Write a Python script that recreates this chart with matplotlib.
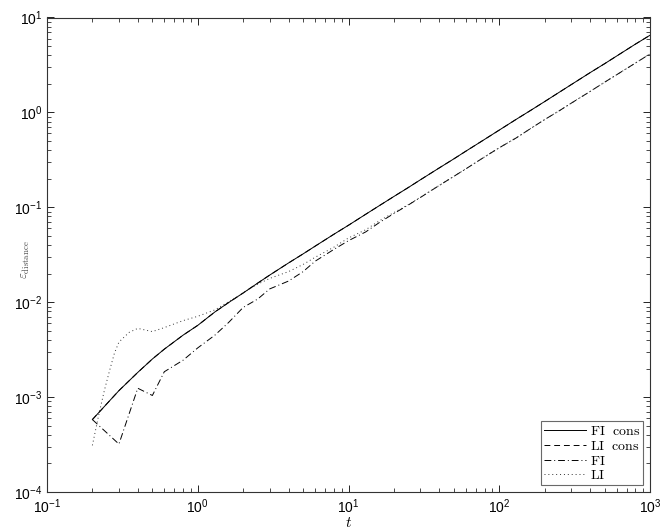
import numpy as np
import matplotlib
matplotlib.use("Agg")
import matplotlib.pyplot as plt

plt.rcParams['font.family'] = ['Liberation Sans', 'DejaVu Sans']

# time grid shared by the FI / cons runs
t = [0.2, 0.3, 0.4, 0.5, 0.6, 0.8, 1, 1.3, 1.6, 2, 2.5, 3, 4, 5, 6, 8, 10,
     13, 16, 20, 25, 30, 40, 50, 60, 80, 100, 130, 160, 200, 250, 300, 400,
     500, 600, 800, 1000]

fi_cons = [0.00058, 0.00117, 0.00182, 0.00252, 0.0032, 0.0045, 0.0057, 0.0079,
           0.0099, 0.0125, 0.0159, 0.0193, 0.0259, 0.0323, 0.0389, 0.052, 0.0647,
           0.0844, 0.104, 0.130, 0.162, 0.195, 0.26, 0.324, 0.39, 0.52, 0.651,
           0.848, 1.04, 1.30, 1.63, 1.96, 2.62, 3.26, 3.92, 5.24, 6.5]

li_cons = [0.00058, 0.00117, 0.00182, 0.00252, 0.0032, 0.0045, 0.0057, 0.0079,
           0.0099, 0.0125, 0.0159, 0.0193, 0.0259, 0.0323, 0.0389, 0.052, 0.0647,
           0.0844, 0.104, 0.130, 0.162, 0.195, 0.26, 0.324, 0.39, 0.52, 0.651,
           0.848, 1.04, 1.30, 1.63, 1.96, 2.62, 3.26, 3.92, 5.24, 6.5]

fi = [0.00058, 0.00032, 0.00124, 0.00104, 0.00185, 0.00245, 0.0033, 0.0045,
      0.0061, 0.0088, 0.0108, 0.0138, 0.0167, 0.021, 0.027, 0.036, 0.0445,
      0.055, 0.069, 0.086, 0.106, 0.127, 0.17, 0.212, 0.254, 0.34, 0.424,
      0.54, 0.67, 0.84, 1.04, 1.25, 1.66, 2.08, 2.49, 3.31, 4.13]

# LI has its own grid (steep rise right at the start)
t_li = [0.2, 0.22, 0.24, 0.26, 0.28, 0.3, 0.35, 0.4, 0.5, 0.6, 0.8, 1, 1.3,
        1.6, 2, 2.5, 3, 4, 5, 6, 8, 10, 13, 16, 20, 25, 30, 40, 50, 60, 80,
        100, 130, 160, 200, 250, 300, 400, 500, 600, 800, 1000]
li = [0.00031, 0.00064, 0.00117, 0.0019, 0.0029, 0.0038, 0.0048, 0.0053,
      0.0049, 0.0054, 0.0064, 0.0071, 0.0083, 0.0101, 0.0125, 0.0155, 0.0178,
      0.0210, 0.025, 0.0297, 0.038, 0.0475, 0.058, 0.072, 0.088, 0.107, 0.128,
      0.17, 0.212, 0.254, 0.34, 0.424, 0.54, 0.67, 0.84, 1.04, 1.25, 1.66,
      2.08, 2.49, 3.31, 4.13]

fig = plt.figure(figsize=(6.64, 5.32), dpi=100)
ax = fig.add_axes([47 / 664, 40 / 532, 603 / 664, 474.5 / 532])

ax.loglog(t, fi_cons, color='k', ls='-', lw=0.7, label=r'$\mathrm{FI\ \ cons}$')
ax.loglog(t, li_cons, color='k', ls=(0, (6, 4)), lw=0.7, label=r'$\mathrm{LI\ \ cons}$')
ax.loglog(t, fi, color='k', ls=(0, (7, 3, 1, 3)), lw=0.7, label=r'$\mathrm{FI}$')
ax.loglog(t_li, li, color='#333333', ls=(0, (1, 3)), lw=0.7, label=r'$\mathrm{LI}$')

ax.set_xlim(0.1, 1000)
ax.set_ylim(1e-4, 10)

ax.tick_params(which='both', direction='in', top=True, right=True,
               labelsize=10, colors='k')
ax.tick_params(which='major', length=5, width=0.6)
ax.tick_params(which='minor', length=3, width=0.5)
ax.tick_params(axis='x', which='major', pad=4)
for s in ax.spines.values():
    s.set_linewidth(0.8)
    s.set_color('#333333')

ax.set_xlabel(r'$t$', math_fontfamily='cm', fontsize=11, labelpad=0)
ax.set_ylabel(r'$\varepsilon_{\mathrm{distance}}$', math_fontfamily='cm',
              fontsize=9, color='#444444')
ax.yaxis.set_label_coords(-0.025, 0.49)

leg = ax.legend(loc='lower right', bbox_to_anchor=(0.988, 0.0148),
                borderaxespad=0, fancybox=False, fontsize=10, handlelength=3.0,
                labelspacing=0.05, borderpad=0.2, handletextpad=0.3)
leg.get_frame().set_edgecolor('#444444')
leg.get_frame().set_linewidth(0.8)
for txt in leg.get_texts():
    txt.set_math_fontfamily('cm')

fig.savefig('out.png', dpi=100)
